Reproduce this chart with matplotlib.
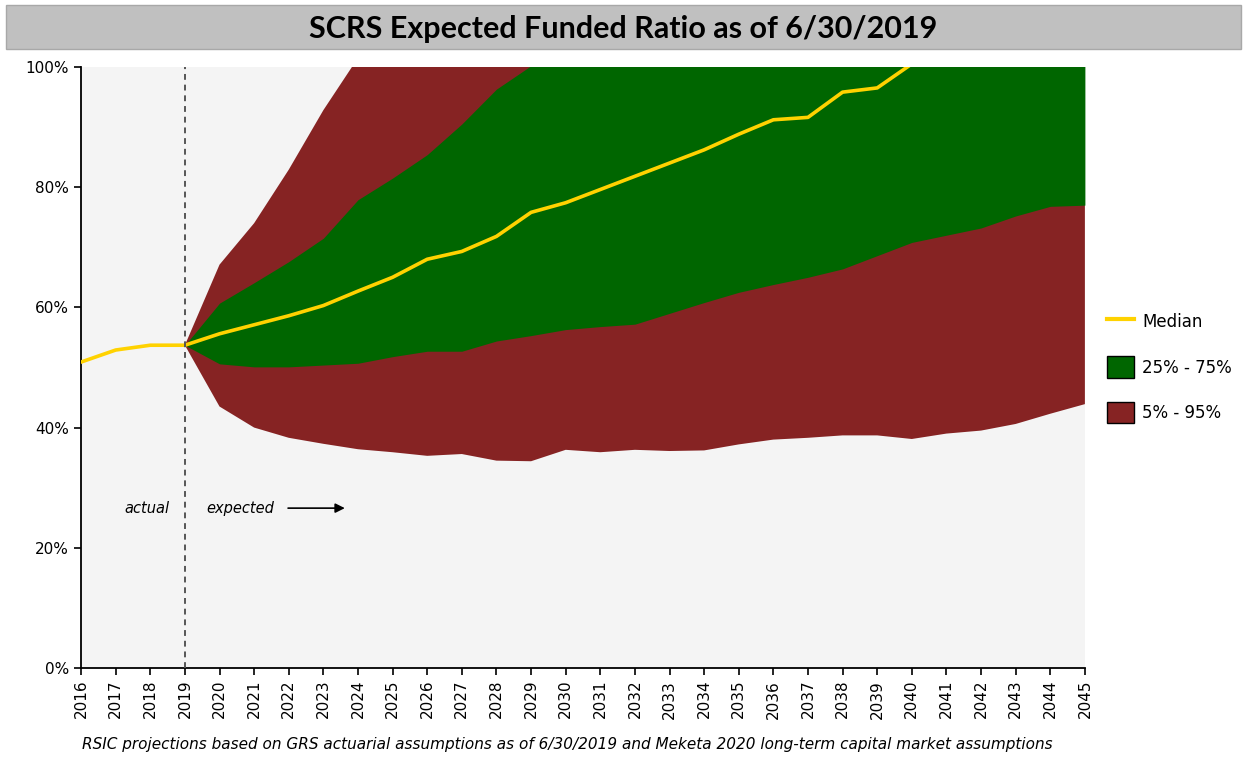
import matplotlib
matplotlib.use("Agg")
import matplotlib.pyplot as plt
from matplotlib.patches import Patch, Rectangle
from matplotlib.lines import Line2D
import numpy as np

years = list(range(2016, 2046))
median = [50.9, 52.9, 53.7, 53.7, 55.6, 57.1, 58.6, 60.3, 62.7, 65.0,
          68.0, 69.3, 71.8, 75.8, 77.4, 79.6, 81.8, 84.0, 86.2, 88.8,
          91.2, 91.6, 95.8, 96.5, 100.5, 102.5, 104.0, 106.0, 108.0, 110.0]

# projections start at 2019
proj_years = list(range(2019, 2046))
p75 = [53.7, 60.7, 64.1, 67.6, 71.5, 77.9, 81.5, 85.4, 90.5, 96.3,
       100.2, 103.0, 106.0, 109.0, 112.0, 115.0, 118.0, 121.0, 124.0, 127.0,
       130.0, 133.0, 136.0, 139.0, 142.0, 145.0, 148.0]
p25 = [53.7, 50.6, 50.1, 50.1, 50.4, 50.7, 51.8, 52.7, 52.7, 54.4,
       55.3, 56.3, 56.8, 57.2, 59.0, 60.8, 62.5, 63.8, 65.0, 66.4,
       68.6, 70.8, 72.0, 73.2, 75.2, 76.8, 77.0]
p95 = [53.7, 67.1, 74.0, 82.9, 92.8, 101.5, 108.0, 114.0, 120.0, 126.0,
       132.0, 138.0, 144.0, 150.0, 156.0, 162.0, 168.0, 174.0, 180.0, 186.0,
       192.0, 198.0, 204.0, 210.0, 216.0, 222.0, 228.0]
p5 = [53.7, 43.5, 40.0, 38.3, 37.3, 36.4, 35.9, 35.3, 35.6, 34.5,
      34.4, 36.3, 35.9, 36.3, 36.1, 36.2, 37.2, 38.0, 38.3, 38.7,
      38.7, 38.1, 39.0, 39.5, 40.6, 42.3, 43.9]

RED = "#862323"
GREEN = "#006600"
GOLD = "#FFD200"

fig = plt.figure(figsize=(12.47, 7.6), dpi=100)
ax = fig.add_axes([0.065, 0.121, 0.805, 0.791])
ax.set_facecolor("#f4f4f4")

ax.fill_between(proj_years, p5, p95, color=RED, lw=0, zorder=2)
ax.fill_between(proj_years, p25, p75, color=GREEN, lw=0, zorder=3)
ax.plot(years, median, color=GOLD, lw=2.6, zorder=4, solid_joinstyle="round")
ax.axvline(2019, color="#555555", lw=1.4, ls=(0, (3, 2.5)), zorder=5)

ax.set_xlim(2016, 2045)
ax.set_ylim(0, 100)
ax.set_xticks(years)
ax.set_xticklabels([str(y) for y in years], rotation=90, fontsize=11)
ax.set_yticks(range(0, 101, 20))
ax.set_yticklabels([f"{v}%" for v in range(0, 101, 20)], fontsize=11)
ax.tick_params(axis="both", direction="out", length=5, width=1.2, colors="black")
for s in ["top", "right"]:
    ax.spines[s].set_visible(False)
for s in ["left", "bottom"]:
    ax.spines[s].set_linewidth(1.3)

ax.text(2017.9, 26.6, "actual", style="italic", fontsize=10.5, ha="center", va="center")
ax.text(2020.6, 26.6, "expected", style="italic", fontsize=10.5, ha="center", va="center")
ax.annotate("", xy=(2023.7, 26.6), xytext=(2021.9, 26.6),
            arrowprops=dict(arrowstyle="-|>", color="black", lw=1.2, mutation_scale=14))

# title bar
fig.patches.append(Rectangle((0.005, 0.935), 0.99, 0.058, transform=fig.transFigure,
                             facecolor="#c0c0c0", edgecolor="#a8a8a8", lw=1))
fig.text(0.5, 0.962, "SCRS Expected Funded Ratio as of 6/30/2019", ha="center", va="center",
         fontsize=22, fontweight="bold", family="Lato")

handles = [Line2D([0], [0], color=GOLD, lw=3),
           Patch(facecolor=GREEN, edgecolor="black"),
           Patch(facecolor=RED, edgecolor="black")]
fig.legend(handles, ["Median", "25% - 75%", "5% - 95%"], loc="center left",
           bbox_to_anchor=(0.876, 0.517), frameon=False, fontsize=12,
           handlelength=1.6, handleheight=1.6, labelspacing=1.45, handletextpad=0.5)

fig.text(0.455, 0.02, "RSIC projections based on GRS actuarial assumptions as of 6/30/2019 "
         "and Meketa 2020 long-term capital market assumptions",
         ha="center", va="center", style="italic", fontsize=11)

fig.savefig("out.png", dpi=100)
